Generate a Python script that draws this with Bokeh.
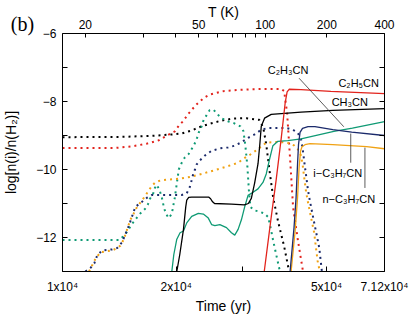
from bokeh.plotting import figure
from bokeh.models import Range1d, LogAxis, LinearAxis, FixedTicker
from bokeh.core.properties import value
from bokeh.embed import file_html
from bokeh.resources import INLINE

# ---------------- data (time in yr, log abundance) ----------------
red_dot_t = [10000, 13703, 15282, 16737, 17998, 18893, 19830, 20317, 20816, 21586, 22521, 23074, 23782,
             24516, 25268, 26846, 29223, 31618, 35048, 37921, 38615, 39324, 40048, 40781, 42034, 43328]
red_dot_v = [-9.37, -9.37, -9.32, -9.24, -9.14, -9.00, -8.88, -8.71, -8.59, -8.35, -8.11, -8.00, -7.88,
             -7.80, -7.76, -7.69, -7.66, -7.64, -7.63, -7.63, -7.69, -8.34, -9.69, -11.11, -12.11, -13.0]

red_sol_t = [34208, 35691, 36791, 37921, 38850, 39324, 39806, 42806, 51338, 71200]
red_sol_v = [-13.0, -11.4, -10.3, -9.1, -8.05, -7.72, -7.64, -7.65, -7.70, -7.77]

blk_dot_t = [10000, 14384, 17251, 19473, 20690, 21982, 23355, 24814, 26363, 28352, 30676, 33190, 34003,
             34627, 35263, 36127, 37237, 38615, 39806]
blk_dot_v = [-9.05, -9.04, -9.01, -8.97, -8.94, -8.85, -8.73, -8.64, -8.56, -8.50, -8.49, -8.54, -8.77,
             -9.26, -9.97, -10.83, -11.54, -12.26, -13.0]

blk_sol_t = [20073, 20441, 20905, 21197, 21327, 21586, 21982, 24366, 24665, 24965, 25268, 28010, 30305,
             31049, 31618, 32257, 32934, 33300, 33593, 34272, 35691, 42806, 51964, 71200]
blk_sol_v = [-13.0, -12.5, -11.76, -11.1, -10.9, -10.82, -10.81, -10.81, -10.86, -10.95, -11.0, -11.02, -11.04,
             -11.0, -10.85, -10.4, -9.83, -9.25, -8.73, -8.49, -8.38, -8.31, -8.26, -8.21]

grn_dot_t = [10000, 14125, 14471, 14827, 15191, 15469, 16042, 16534, 16838, 17044, 17356, 17567, 17782,
             18108, 18328, 18552, 18777, 19122, 19473, 19829, 20316, 20690, 21069, 21586, 22250, 22659,
             22934, 23355, 23640, 24074, 24516, 25117, 25578, 26363, 27505, 28352, 29581, 30123, 30489,
             30861, 31144, 31429, 32197, 33190, 34208, 35048, 35691, 36127, 36791, 37465, 37693]
grn_dot_v = [-12.07, -12.07, -11.97, -11.83, -11.64, -11.52, -11.3, -11.16, -11.02, -10.86, -10.73, -10.54, -10.45,
             -10.64, -10.83, -11.11, -11.3, -11.43, -11.3, -10.83, -10.0, -9.8, -9.65, -9.54, -9.3, -9.11,
             -8.92, -8.73, -8.54, -8.4, -8.26, -8.24, -8.35, -8.49, -8.59, -8.63, -8.73, -8.87, -9.3,
             -9.9, -10.6, -11.1, -11.2, -11.24, -11.29, -11.4, -11.8, -12.1, -12.5, -12.9, -13.0]

grn_sol_t = [19473, 19711, 20073, 20478, 20905, 21327, 21982, 22892, 23598, 24322, 24814, 25315, 26095,
             27175, 28010, 28576, 29170, 29760, 30361, 30992, 31947, 32927, 33942, 34627, 35326, 36062,
             37169, 39491, 42806, 52278, 58554, 71200]
grn_sol_v = [-13.0, -12.5, -12.05, -11.86, -11.81, -11.57, -11.38, -11.29, -11.31, -11.43, -11.62, -11.65, -11.62,
             -11.71, -11.86, -11.93, -11.76, -11.48, -11.1, -10.76, -10.67, -10.57, -10.38, -10.13, -9.7, -9.3,
             -9.17, -9.15, -9.1, -8.88, -8.78, -8.59]

nav_dot_t = [11495, 11849, 12139, 12362, 12742, 13538, 13955, 14384, 14675, 14980, 15282, 15591, 16237,
             16737, 17251, 18552, 20690, 21327, 21758, 21982, 22211, 22426, 22659, 23117, 23827, 24814,
             26095, 27454, 28576, 29760, 30992, 32257, 33593, 34984, 39089, 40708, 41957, 42806, 43251,
             43671, 44124, 44578, 45015, 45952, 46880, 47826, 48614]
nav_dot_v = [-13.0, -12.9, -12.76, -12.52, -12.38, -12.35, -12.31, -12.14, -11.9, -11.66, -11.38, -11.1, -10.95,
             -10.83, -10.75, -10.75, -10.75, -10.7, -10.5, -10.31, -10.11, -10.0, -9.85, -9.73, -9.59, -9.45,
             -9.38, -9.35, -9.3, -9.2, -9.07, -8.97, -8.83, -8.78, -8.78, -8.83, -8.92, -9.11, -9.4,
             -9.78, -10.16, -10.54, -10.83, -11.34, -11.82, -12.3, -13.0]

org_dot_t = [11755, 11993, 12235, 12612, 12999, 13538, 13955, 14237, 14534, 14827, 15127, 15441, 15753,
             16237, 16565, 16909, 17251, 17600, 17965, 18552, 20690, 21982, 23355, 25315, 27454, 29170,
             30361, 31618, 32927, 34627, 36412, 38691, 40289, 41103, 41957, 42806, 43251, 43671, 44124,
             44578, 45479, 46398, 46880, 47362, 47826, 48030]
org_dot_v = [-13.0, -12.81, -12.62, -12.43, -12.41, -12.38, -12.31, -12.24, -12.05, -11.76, -11.48, -11.29, -11.1,
             -10.91, -10.77, -10.62, -10.48, -10.38, -10.34, -10.31, -10.26, -10.21, -10.13, -10.02, -9.9, -9.8,
             -9.66, -9.54, -9.4, -9.21, -9.19, -9.2, -9.24, -9.3, -9.4, -9.59, -9.88, -10.26, -10.64,
             -10.92, -11.4, -11.87, -12.3, -12.69, -12.92, -13.0]

nav_sol_t = [40048, 41026, 41530, 41909, 42158, 42549, 43196, 44660, 46593, 51964, 58303, 71200]
nav_sol_v = [-13.0, -11.69, -10.83, -9.83, -9.26, -8.91, -8.79, -8.74, -8.74, -8.83, -8.9, -9.0]

org_sol_t = [40289, 41276, 41909, 42291, 42678, 43066, 43855, 45207, 51964, 63849, 71200]
org_sol_v = [-13.0, -11.83, -10.83, -9.97, -9.46, -9.33, -9.27, -9.24, -9.27, -9.33, -9.39]

# axis ticks
time_ticks = [10000, 20000, 30000, 50000, 71200]
time_tick_labels = ["1x10\u2074", "2x10\u2074", "", "5x10\u2074", "7.12x10\u2074"]
y_ticks = [-13, -12, -11, -10, -9, -8, -7, -6]
y_tick_labels = ["", "\u221212", "", "\u221210", "", "\u22128", "", "\u22126"]
temp_vals = [20, 30, 40, 50, 60, 70, 80, 90, 100, 200, 400]
temp_times = [11495, 16340, 19950, 22930, 25730, 28180, 30490, 32390, 34420, 50100, 71200]
temp_shown = [20, 50, 100, 200, 400]

# annotations
label_text = ["C\u2082H\u2083CN", "C\u2082H\u2085CN", "CH\u2083CN", "i\u2212C\u2083H\u2087CN", "n\u2212C\u2083H\u2087CN"]
label_t = [39562, 60824, 57610, 53560, 57270]
label_v = [-7.06, -7.46, -8.0, -10.09, -10.86]
lead_t0 = [42290, 57957, 63193]
lead_v0 = [-7.314, -8.943, -9.357]
lead_t1 = [55557, 57957, 63193]
lead_v1 = [-8.743, -9.8, -10.543]
panel_tag_t = 10000          # "(b)" hangs off the left end of the top axis
temp_title_t = 26690         # centre of the top axis for "T (K)"

RED = "#e2231c"
BLACK = "#000000"
GREEN = "#0f9a74"
NAVY = "#1b2a6b"
ORANGE = "#f0a214"
FONT = "Liberation Sans"
NBSP = "\u00a0"

p = figure(width=415, height=316, x_axis_type="log",
           x_range=Range1d(10000, 71200), y_range=Range1d(-13, -6),
           output_backend="svg", toolbar_location=None,
           min_border_left=60, min_border_right=31, min_border_top=31, min_border_bottom=40,
           background_fill_color="white", border_fill_color="white")
p.margin = 0
p.styles = {"position": "absolute", "top": "0px", "left": "0px"}
p.xgrid.visible = False
p.ygrid.visible = False
p.outline_line_color = None


def style_axis(ax):
    ax.major_tick_in = 5
    ax.major_tick_out = 0
    ax.minor_tick_in = 0
    ax.minor_tick_out = 0
    ax.minor_tick_line_color = None
    ax.axis_line_color = "black"
    ax.axis_line_width = 1
    ax.major_tick_line_color = "black"
    ax.major_label_text_font = FONT
    ax.major_label_text_font_size = "12px"
    ax.major_label_text_color = "black"
    ax.axis_label_text_font = FONT
    ax.axis_label_text_font_size = "14px"
    ax.axis_label_text_font_style = "normal"
    ax.axis_label_text_color = "black"


xb = p.xaxis[0]
style_axis(xb)
xb.ticker = FixedTicker(ticks=time_ticks, minor_ticks=[])
xb.major_label_overrides = dict(zip(time_ticks, time_tick_labels))
xb.axis_label = "Time (yr)"
xb.major_label_standoff = 8
xb.axis_label_standoff = 1

yl = p.yaxis[0]
style_axis(yl)
yl.ticker = FixedTicker(ticks=y_ticks, minor_ticks=[])
yl.major_label_overrides = dict(zip(y_ticks, y_tick_labels))
yl.axis_label = "log[n(i)/n(H\u2082)]"
yl.major_label_standoff = 6
yl.axis_label_standoff = 14

# top temperature axis
xt = LogAxis()
style_axis(xt)
xt.major_tick_in = 4
xt.ticker = FixedTicker(ticks=temp_times, minor_ticks=[])
xt.major_label_overrides = {tt: (str(tv) if tv in temp_shown else "") for tt, tv in zip(temp_times, temp_vals)}
xt.major_label_standoff = 5
p.add_layout(xt, "above")

# invisible carrier axis for the panel tag "(b)"
xtag = LogAxis()
style_axis(xtag)
xtag.axis_line_color = None
xtag.major_tick_line_color = None
xtag.major_tick_in = 0
xtag.ticker = FixedTicker(ticks=[panel_tag_t], minor_ticks=[])
xtag.major_label_overrides = {panel_tag_t: "(b)" + NBSP * 16}
xtag.major_label_text_font = "Liberation Serif"
xtag.major_label_text_font_size = "20px"
xtag.major_label_standoff = -18
p.add_layout(xtag, "above")

# invisible carrier axis for the "T (K)" title
xtt = LogAxis()
style_axis(xtt)
xtt.axis_line_color = None
xtt.major_tick_line_color = None
xtt.major_tick_in = 0
xtt.ticker = FixedTicker(ticks=[temp_title_t], minor_ticks=[])
xtt.major_label_overrides = {temp_title_t: "T (K)"}
xtt.major_label_text_font_size = "14px"
xtt.major_label_standoff = -10
p.add_layout(xtt, "above")

yr = LinearAxis()
style_axis(yr)
yr.ticker = FixedTicker(ticks=y_ticks, minor_ticks=[])
yr.major_label_overrides = {v: "" for v in y_ticks}
yr.major_label_standoff = 0
p.add_layout(yr, "right")

DOT = "2 4"
for t, v, c in [(red_dot_t, red_dot_v, RED), (blk_dot_t, blk_dot_v, BLACK), (grn_dot_t, grn_dot_v, GREEN),
                (org_dot_t, org_dot_v, ORANGE), (nav_dot_t, nav_dot_v, NAVY)]:
    p.line(t, v, line_color=c, line_width=2, line_dash=DOT)

for t, v, c in [(grn_sol_t, grn_sol_v, GREEN), (blk_sol_t, blk_sol_v, BLACK), (red_sol_t, red_sol_v, RED),
                (org_sol_t, org_sol_v, ORANGE), (nav_sol_t, nav_sol_v, NAVY)]:
    p.line(t, v, line_color=c, line_width=1.3)

p.segment(lead_t0, lead_v0, lead_t1, lead_v1, line_color="#333333", line_width=0.8)

p.text(label_t, label_v, text=label_text, text_font=value(FONT), text_font_size="11px",
       text_align="center", text_baseline="middle", text_color="black")

open("out.html", "w").write(file_html(p, INLINE))
